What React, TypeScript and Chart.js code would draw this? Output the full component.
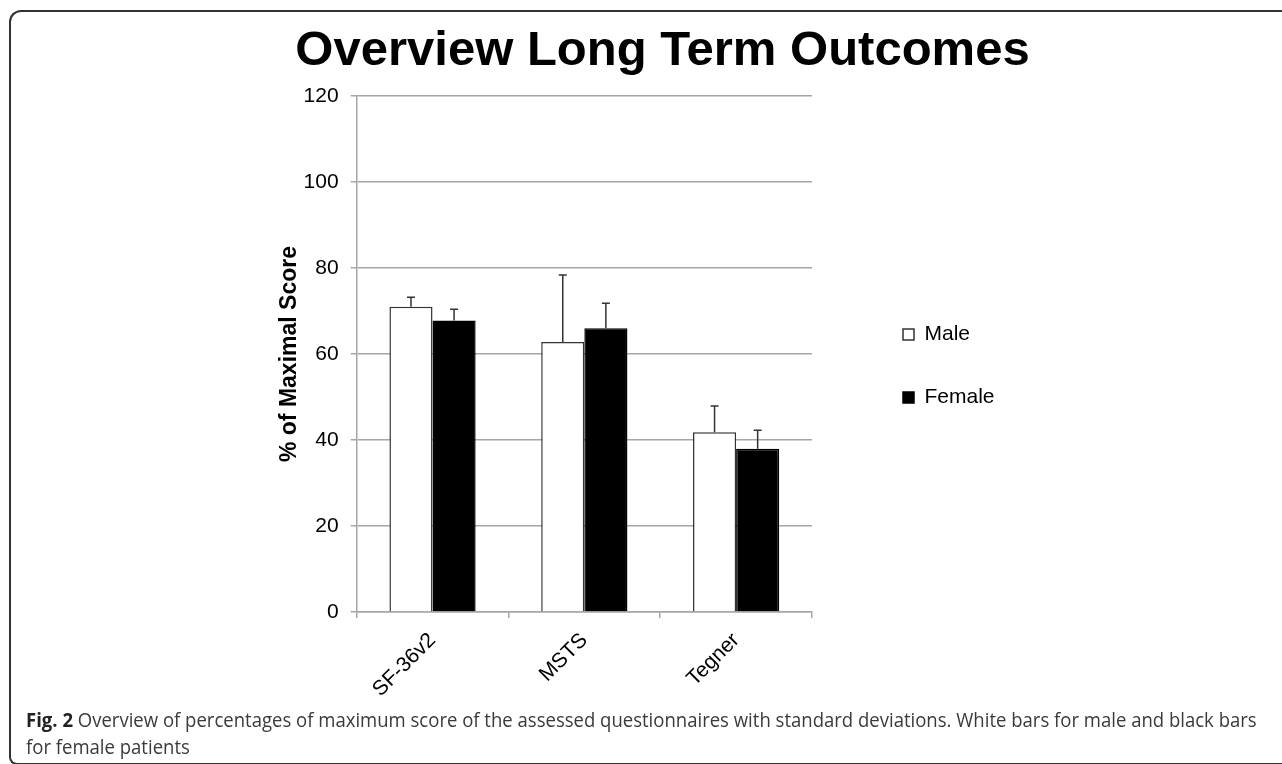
import React, { useEffect, useRef } from "react";
import { Chart, registerables } from "chart.js";

Chart.register(...registerables);

const categories = ["SF-36v2", "MSTS", "Tegner"];
const maleValues = [71.0, 62.8, 41.8];
const femaleValues = [67.8, 66.0, 38.0];
const maleSD = [2.2, 15.6, 6.1];
const femaleSD = [2.6, 5.8, 4.3];
const seriesLabels = ["Male", "Female"];
const yTicksMax = 120;
const yTicksStep = 20;

const FONT = "'Liberation Sans', Arial, sans-serif";
const LEGEND_W = 188;

const errorBarPlugin = {
  id: "errorBars",
  afterDatasetsDraw(chart: any) {
    const ctx = chart.ctx;
    const yScale = chart.scales.y;
    const sds = [maleSD, femaleSD];
    chart.data.datasets.forEach((ds: any, i: number) => {
      const meta = chart.getDatasetMeta(i);
      meta.data.forEach((bar: any, j: number) => {
        const v = ds.data[j];
        const top = yScale.getPixelForValue(v + sds[i][j]);
        ctx.save();
        ctx.strokeStyle = "#333";
        ctx.lineWidth = 1.5;
        ctx.beginPath();
        ctx.moveTo(bar.x, bar.y);
        ctx.lineTo(bar.x, top);
        ctx.moveTo(bar.x - 4, top);
        ctx.lineTo(bar.x + 4, top);
        ctx.stroke();
        ctx.restore();
      });
    });
  },
};

const legendWidthPlugin = {
  id: "legendWidth",
  beforeLayout(chart: any) {
    const lg: any = chart.legend;
    if (lg && !lg.__patched) {
      const orig = lg.fit;
      lg.fit = function () {
        orig.call(this);
        this.width = LEGEND_W;
      };
      lg.__patched = true;
    }
  },
};

export default function App() {
  const ref = useRef<HTMLCanvasElement | null>(null);
  useEffect(() => {
    if (!ref.current) return;
    const chart = new Chart(ref.current, {
      type: "bar",
      data: {
        labels: categories,
        datasets: [
          {
            label: seriesLabels[0],
            data: maleValues,
            backgroundColor: "#ffffff",
            borderColor: "#333333",
            borderWidth: 1.5,
            categoryPercentage: 0.568,
            barPercentage: 1,
          },
          {
            label: seriesLabels[1],
            data: femaleValues,
            backgroundColor: "#000000",
            borderColor: "#000000",
            borderWidth: 1.5,
            categoryPercentage: 0.568,
            barPercentage: 1,
          },
        ],
      },
      options: {
        animation: false,
        responsive: true,
        maintainAspectRatio: false,
        layout: { padding: { left: 276, right: 233, top: 0, bottom: 6 } },
        plugins: {
          title: {
            display: true,
            text: "Overview Long Term Outcomes",
            color: "#000",
            font: { family: FONT, size: 49, weight: "bold" },
            padding: { top: 22, bottom: 15.2 },
          },
          legend: {
            display: true,
            position: "right",
            fullSize: false,
            align: "center",
            title: {
              display: true,
              text: " ",
              font: { family: FONT, size: 10, lineHeight: 1 },
              padding: { top: 0, bottom: 14 },
            },
            labels: {
              color: "#000",
              font: { family: FONT, size: 21 },
              boxWidth: 11,
              boxHeight: 11,
              padding: 42,
            },
          },
          tooltip: { enabled: false },
        },
        scales: {
          x: {
            grid: {
              display: true,
              drawOnChartArea: false,
              drawTicks: true,
              tickLength: 6,
              color: "#a6a6a6",
              lineWidth: 1.5,
              offset: true,
            },
            border: { display: true, color: "#a6a6a6", width: 1.5 },
            ticks: {
              color: "#000",
              font: { family: FONT, size: 21 },
              minRotation: 45,
              maxRotation: 45,
              padding: 10,
            },
          },
          y: {
            min: 0,
            max: yTicksMax,
            grid: { color: "#a6a6a6", lineWidth: 1.5, tickLength: 6 },
            border: { display: true, color: "#a6a6a6", width: 1.5 },
            ticks: {
              stepSize: yTicksStep,
              color: "#000",
              font: { family: FONT, size: 21 },
              padding: 12,
            },
            title: {
              display: true,
              text: "% of Maximal Score",
              color: "#000",
              font: { family: FONT, size: 23, weight: "bold" },
              padding: { top: 0, bottom: -12 },
            },
          },
          gapInner: {
            type: "linear",
            position: "right",
            weight: 0,
            display: true,
            grid: { display: false, drawTicks: false },
            border: { display: false },
            ticks: { display: false },
            afterFit: (s: any) => {
              s.width = 49;
            },
          },
        } as any,
      },
      plugins: [errorBarPlugin, legendWidthPlugin],
    });
    return () => chart.destroy();
  }, []);

  return (
    <div
      style={{
        position: "absolute",
        left: 0,
        top: 0,
        width: 1282,
        height: 764,
        background: "#fff",
        overflow: "hidden",
      }}
    >
      <div
        style={{
          position: "absolute",
          left: 9,
          top: 10,
          width: 1320,
          height: 751,
          borderLeft: "2px solid #333",
          borderTop: "2px solid #333",
          borderBottom: "2px solid #333",
          borderTopLeftRadius: 12,
          borderBottomLeftRadius: 8,
        }}
      />
      <div style={{ position: "absolute", left: 0, top: 0, width: 1282, height: 718 }}>
        <canvas ref={ref} />
      </div>
      <div
        style={{
          position: "absolute",
          left: 26,
          top: 706,
          fontFamily: "'Open Sans', sans-serif",
          fontSize: 19.5,
          lineHeight: "27px",
          color: "#3a3a3a",
          whiteSpace: "nowrap",
          transform: "scaleX(0.95)",
          transformOrigin: "0 0",
        }}
      >
        <div>
          <b style={{ color: "#222" }}>Fig. 2</b> Overview of percentages of maximum score of the assessed
          questionnaires with standard deviations. White bars for male and black bars
        </div>
        <div>for female patients</div>
      </div>
    </div>
  );
}
